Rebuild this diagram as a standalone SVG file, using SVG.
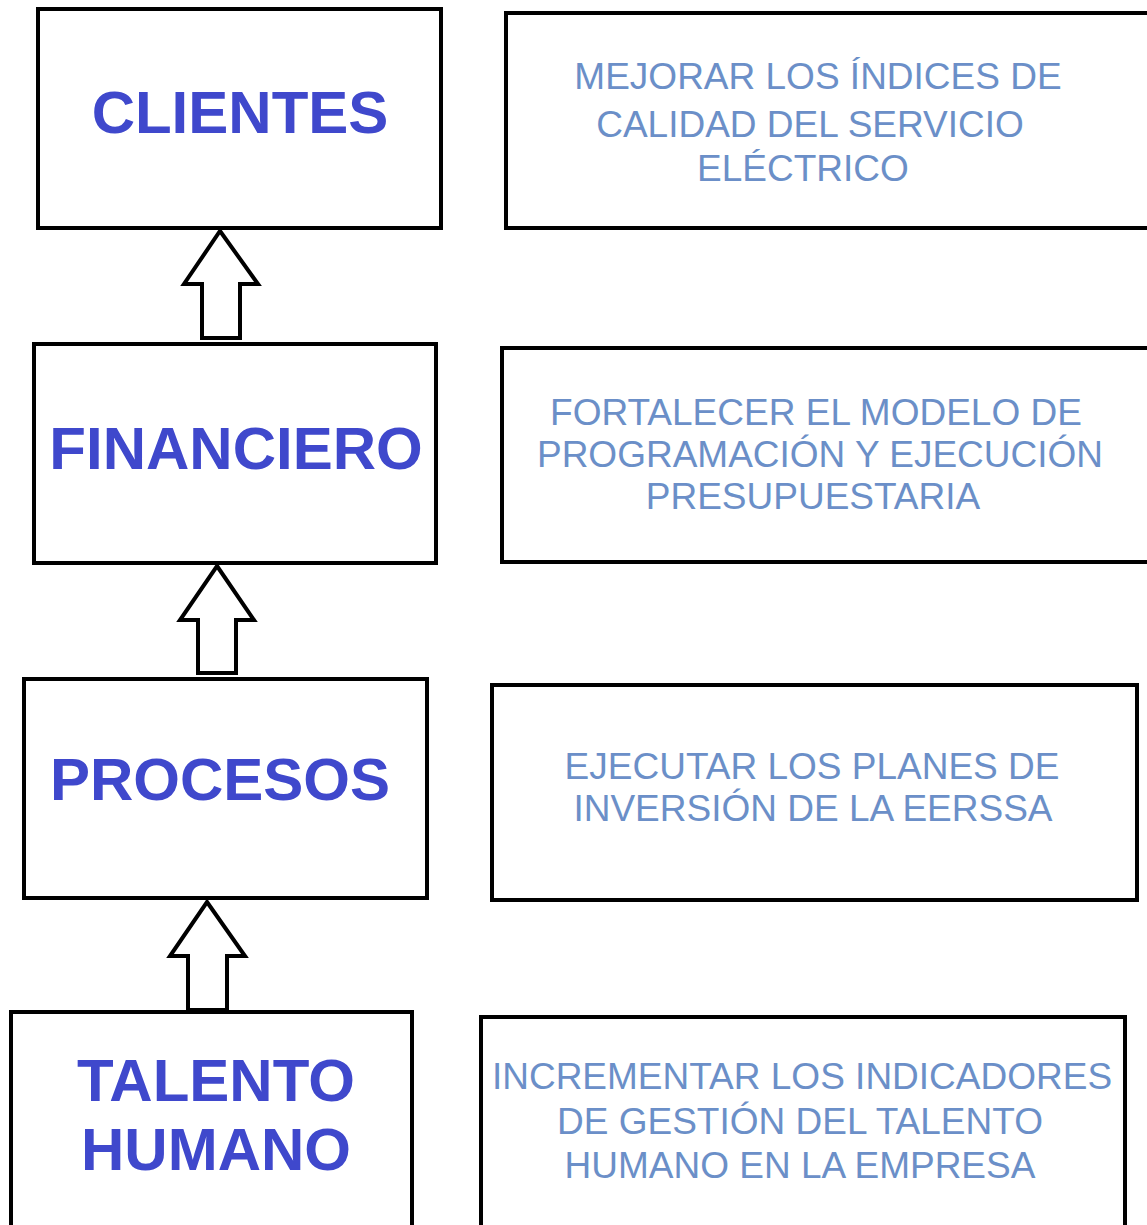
<svg xmlns="http://www.w3.org/2000/svg" width="1147" height="1225" viewBox="0 0 1147 1225">
<style>
.box{fill:#fff;stroke:#000;stroke-width:4}
.arrow{fill:#fff;stroke:#000;stroke-width:4;stroke-linejoin:miter}
.h{font-family:"Liberation Sans",Arial,sans-serif;font-weight:bold;font-size:60px;fill:#3f48cc;text-anchor:middle}
.d{font-family:"Liberation Sans",Arial,sans-serif;font-size:37px;fill:#6b8fc8;text-anchor:middle}
</style>
<rect width="1147" height="1225" fill="#fff"/>
<g id="connectors">
<path class="arrow" d="M220,231 L258,284 L240,284 L240,338 L202,338 L202,284 L184,284 Z"/>
<path class="arrow" d="M217,566 L254,620 L236,620 L236,673 L198,673 L198,620 L180,620 Z"/>
<path class="arrow" d="M207,902 L245,956 L227,956 L227,1010 L188,1010 L188,956 L170,956 Z"/>
</g>
<g id="clientes">
<rect class="box" x="38" y="9" width="403" height="219"/>
<text class="h" x="240" y="133">CLIENTES</text>
</g>
<g id="obj-clientes">
<rect class="box" x="506" y="13" width="645" height="215"/>
<text class="d" x="818" y="89">MEJORAR LOS ÍNDICES DE</text>
<text class="d" x="810" y="137">CALIDAD DEL SERVICIO</text>
<text class="d" x="803" y="181">ELÉCTRICO</text>
</g>
<g id="financiero">
<rect class="box" x="34" y="344" width="402" height="219"/>
<text class="h" x="236" y="469">FINANCIERO</text>
</g>
<g id="obj-financiero">
<rect class="box" x="502" y="348" width="649" height="214"/>
<text class="d" x="816" y="425">FORTALECER EL MODELO DE</text>
<text class="d" x="820" y="467">PROGRAMACIÓN Y EJECUCIÓN</text>
<text class="d" x="813" y="509">PRESUPUESTARIA</text>
</g>
<g id="procesos">
<rect class="box" x="24" y="679" width="403" height="219"/>
<text class="h" x="220" y="800">PROCESOS</text>
</g>
<g id="obj-procesos">
<rect class="box" x="492" y="685" width="645" height="215"/>
<text class="d" x="812" y="779">EJECUTAR LOS PLANES DE</text>
<text class="d" x="813" y="821">INVERSIÓN DE LA EERSSA</text>
</g>
<g id="talento">
<rect class="box" x="11" y="1012" width="401" height="230"/>
<text class="h" x="216" y="1101">TALENTO</text>
<text class="h" x="216" y="1170">HUMANO</text>
</g>
<g id="obj-talento">
<rect class="box" x="481" y="1017" width="644" height="225"/>
<text class="d" x="802" y="1089">INCREMENTAR LOS INDICADORES</text>
<text class="d" x="800" y="1134">DE GESTIÓN DEL TALENTO</text>
<text class="d" x="800" y="1178">HUMANO EN LA EMPRESA</text>
</g>
</svg>
